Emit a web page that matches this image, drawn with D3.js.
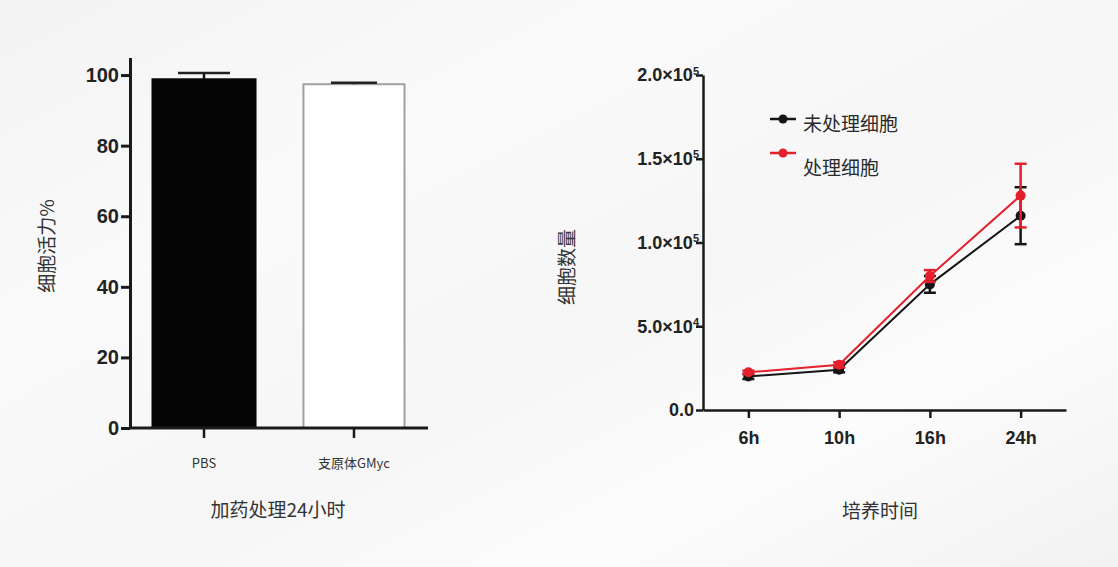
<!DOCTYPE html>
<html>
<head>
<meta charset="utf-8">
<script src="https://cdn.jsdelivr.net/npm/d3@7"></script>
<style>
  html, body { margin: 0; padding: 0; }
  body { width: 1118px; height: 567px; overflow: hidden; }
  .axis path, .axis line { stroke: #1a1a1a; }
  .num { font-family: "Liberation Sans Narrow", "Liberation Sans", Arial, sans-serif; font-weight: bold; fill: #222; }
  .cjk { font-family: "Noto Sans CJK SC", sans-serif; fill: #333; }
</style>
</head>
<body>
<div id="chart"></div>
<script>
// left panel: viability
const categories = ['PBS', '支原体GMyc']
const viability = [98.8, 97.4]
const viabilityErr = [1.8, 0.4]
const viabilityTicks = [0, 20, 40, 60, 80, 100]

// right panel: cell counts
const timePoints = ['6h', '10h', '16h', '24h']
const untreated = [20000, 24000, 75000, 116000]
const untreatedErr = [1500, 1500, 5000, 17000]
const treated = [22500, 27000, 80000, 128000]
const treatedErr = [1000, 1500, 3500, 19000]
const countTicks = [0, 50000, 100000, 150000, 200000]
const seriesNames = ['未处理细胞', '处理细胞']

const svg = d3.select('#chart').append('svg')
    .attr('width', 1118)
    .attr('height', 567)

/*
 * background: light grey with soft white streaks
 */
const defs = svg.append('defs')
const grad = defs.append('linearGradient')
    .attr('id', 'bg')
    .attr('x1', '0%').attr('y1', '0%')
    .attr('x2', '100%').attr('y2', '100%')
grad.append('stop').attr('offset', '0%').attr('stop-color', '#f3f3f3')
grad.append('stop').attr('offset', '30%').attr('stop-color', '#fafafa')
grad.append('stop').attr('offset', '55%').attr('stop-color', '#f6f6f6')
grad.append('stop').attr('offset', '75%').attr('stop-color', '#fcfcfc')
grad.append('stop').attr('offset', '100%').attr('stop-color', '#f2f2f2')
svg.append('rect').attr('width', 1118).attr('height', 567).attr('fill', 'url(#bg)')

/*
 * Left chart - bars
 */
const left = svg.append('g')

const xBand = d3.scaleBand()
    .domain(categories)
    .range([130, 428])
    .paddingInner(0.313)
    .paddingOuter(0.15)

const yPct = d3.scaleLinear()
    .domain([0, 105])
    .range([428, 57.4])

left.selectAll('rect.bar')
    .data(categories)
    .enter()
    .append('rect')
    .attr('class', 'bar')
    .attr('x', (d, i) => xBand(d) + (i === 1 ? 1 : 0))
    .attr('y', (d, i) => yPct(viability[i]))
    .attr('width', (d, i) => xBand.bandwidth() - (i === 1 ? 2 : 0))
    .attr('height', (d, i) => yPct(0) - yPct(viability[i]))
    .style('fill', (d, i) => i === 0 ? '#050505' : '#ffffff')
    .style('stroke', (d, i) => i === 0 ? '#050505' : '#a0a0a0')
    .style('stroke-width', 2)

// error bars (upper only, like prism)
categories.forEach(function(c, i) {
    const cx = xBand(c) + xBand.bandwidth() / 2
    const capW = i === 0 ? 26 : 23
    left.append('line')
        .attr('x1', cx).attr('x2', cx)
        .attr('y1', yPct(viability[i]))
        .attr('y2', yPct(viability[i] + viabilityErr[i]))
        .style('stroke', '#111').style('stroke-width', 2.5)
    left.append('line')
        .attr('x1', cx - capW).attr('x2', cx + capW)
        .attr('y1', yPct(viability[i] + viabilityErr[i]))
        .attr('y2', yPct(viability[i] + viabilityErr[i]))
        .style('stroke', '#222').style('stroke-width', 2.5)
})

const yAxisL = d3.axisLeft(yPct)
    .tickValues(viabilityTicks)
    .tickSize(9)
    .tickPadding(2)
    .tickSizeOuter(0)
left.append('g')
    .attr('class', 'y axis')
    .attr('transform', 'translate(130,0)')
    .call(yAxisL)
    .call(g => g.selectAll('path, line').style('stroke-width', 3))
    .call(g => g.selectAll('text').attr('class', 'num').style('font-size', '20px'))

const xAxisL = d3.axisBottom(xBand)
    .tickSize(10)
    .tickPadding(21)
    .tickSizeOuter(0)
left.append('g')
    .attr('class', 'x axis')
    .attr('transform', 'translate(0,428)')
    .call(xAxisL)
    .call(g => g.select('path').attr('d', 'M0,0H298').attr('transform', 'translate(130,0)').style('stroke-width', 3))
    .call(g => g.selectAll('line').style('stroke-width', 2.5))
    .call(g => g.selectAll('text').attr('class', 'cjk').style('font-size', '13px').style('fill', '#333'))

left.append('text')
    .attr('class', 'cjk')
    .attr('x', 278).attr('y', 517)
    .attr('text-anchor', 'middle')
    .style('font-size', '19px')
    .text('加药处理24小时')

left.append('text')
    .attr('class', 'cjk')
    .attr('transform', 'translate(54,246) rotate(-90)')
    .attr('text-anchor', 'middle')
    .style('font-size', '19px')
    .text('细胞活力%')

/*
 * Right chart - lines with error bars
 */
const right = svg.append('g')

const xTime = d3.scalePoint()
    .domain(timePoints)
    .range([703, 1066])
    .padding(0.5)

const yCount = d3.scaleLinear()
    .domain([0, 200000])
    .range([410, 75])

const yAxisR = d3.axisLeft(yCount)
    .tickValues(countTicks)
    .tickSize(7)
    .tickPadding(2)
    .tickSizeOuter(0)
right.append('g')
    .attr('class', 'y axis')
    .attr('transform', 'translate(703,0)')
    .call(yAxisR)
    .call(g => g.selectAll('path, line').style('stroke-width', 2.5))
    .call(g => g.selectAll('text').each(function(d) {
        const t = d3.select(this)
        t.attr('class', 'num').style('font-size', '18px').text(null)
        if (d === 0) {
            t.text('0.0')
            return
        }
        const e = Math.floor(Math.log10(d))
        const m = d / Math.pow(10, e)
        t.append('tspan').text(m.toFixed(1) + '×10')
        t.append('tspan').attr('dy', '-0.6em').style('font-size', '11px').text(e)
        t.attr('dx', '5px')
    }))

const xAxisR = d3.axisBottom(xTime)
    .tickSize(8)
    .tickPadding(13)
    .tickSizeOuter(0)
right.append('g')
    .attr('class', 'x axis')
    .attr('transform', 'translate(0,410)')
    .call(xAxisR)
    .call(g => g.selectAll('path, line').style('stroke-width', 2.5))
    .call(g => g.selectAll('text').attr('class', 'num').style('font-size', '18px'))

const line = d3.line()
    .x((d, i) => xTime(timePoints[i]))
    .y(d => yCount(d))

const series = [
    { vals: untreated, errs: untreatedErr, color: '#151515' },
    { vals: treated, errs: treatedErr, color: '#e3202b' }
]

series.forEach(function(s) {
    right.append('path')
        .datum(s.vals)
        .style('stroke', s.color)
        .style('stroke-width', 2)
        .style('fill', 'none')
        .attr('d', line)

    s.vals.forEach(function(v, i) {
        const cx = xTime(timePoints[i])
        const lo = yCount(v - s.errs[i])
        const hi = yCount(v + s.errs[i])
        right.append('line')
            .attr('x1', cx).attr('x2', cx).attr('y1', lo).attr('y2', hi)
            .style('stroke', s.color).style('stroke-width', 2.5)
        ;[lo, hi].forEach(function(y) {
            right.append('line')
                .attr('x1', cx - 6).attr('x2', cx + 6).attr('y1', y).attr('y2', y)
                .style('stroke', s.color).style('stroke-width', 2.5)
        })
        right.append('circle')
            .attr('cx', cx).attr('cy', yCount(v)).attr('r', 5)
            .style('fill', s.color)
    })
})

// legend
const legendY = [119, 153]
const legendTextY = [131, 175]
series.forEach(function(s, i) {
    right.append('line')
        .attr('x1', 770).attr('x2', 796)
        .attr('y1', legendY[i]).attr('y2', legendY[i])
        .style('stroke', s.color).style('stroke-width', 2.5)
    right.append('circle')
        .attr('cx', 783).attr('cy', legendY[i]).attr('r', 4.5)
        .style('fill', s.color)
    right.append('text')
        .attr('class', 'cjk')
        .attr('x', 803).attr('y', legendTextY[i])
        .style('font-size', '19px')
        .style('fill', '#2a2a2a')
        .text(seriesNames[i])
})

right.append('text')
    .attr('class', 'cjk')
    .attr('x', 880).attr('y', 518)
    .attr('text-anchor', 'middle')
    .style('font-size', '19px')
    .text('培养时间')

right.append('text')
    .attr('class', 'cjk')
    .attr('transform', 'translate(574,267) rotate(-90)')
    .attr('text-anchor', 'middle')
    .style('font-size', '19px')
    .text('细胞数量')
</script>
</body>
</html>
